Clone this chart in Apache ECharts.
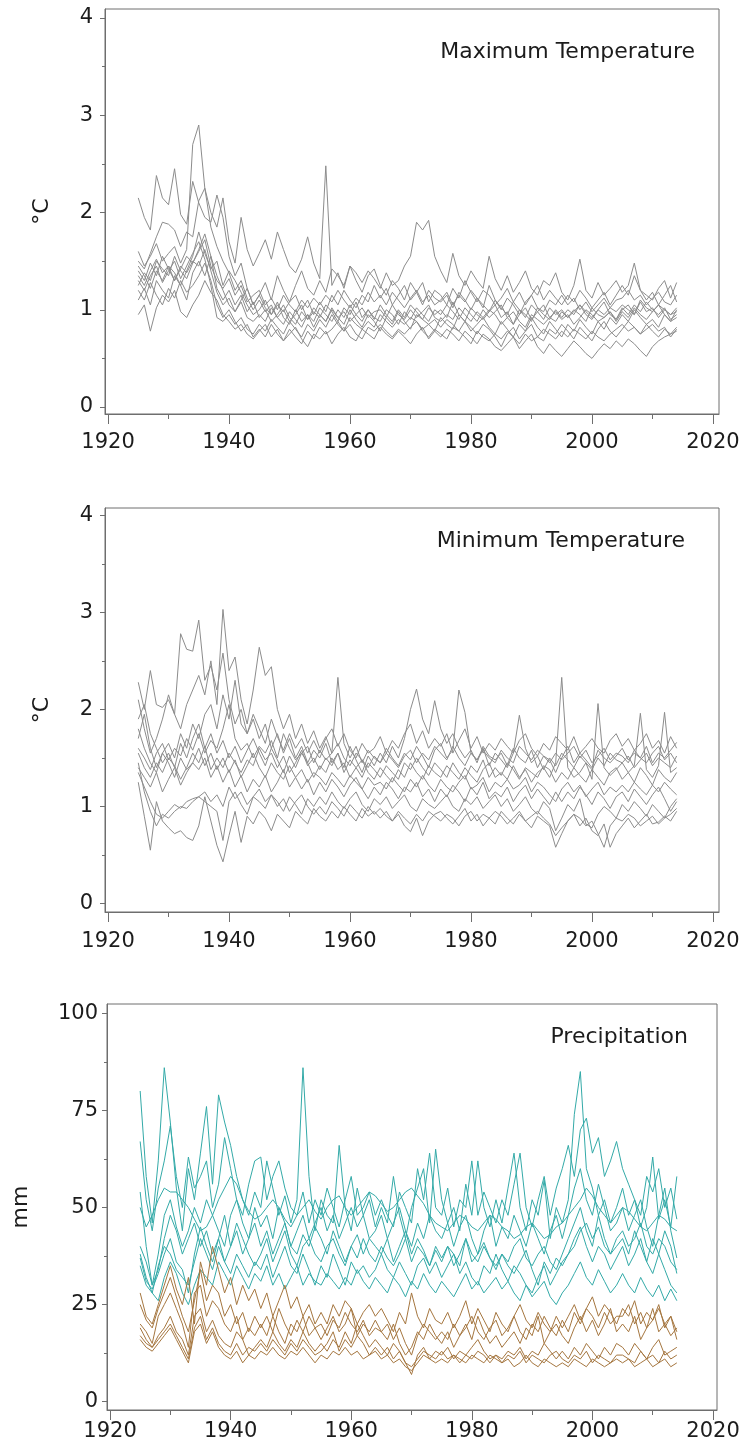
<!DOCTYPE html>
<html><head><meta charset="utf-8">
<script src="https://cdn.jsdelivr.net/npm/echarts@6/dist/echarts.min.js"></script>
<style>html,body{margin:0;padding:0;background:#fff}#c{width:746px;height:1452px}</style>
</head><body><div id="c"></div>
<script>
// ---------- categories / ticks ----------
const firstYear = 1925, lastYear = 2014;
const years = []; for (let y = firstYear; y <= lastYear; y++) years.push(y);
const xMajorTicks = [1920, 1940, 1960, 1980, 2000, 2020];
const xMinorTicks = [1930, 1950, 1970, 1990, 2010];
const tempTicks = [0, 1, 2, 3, 4];
const tempMinorTicks = [0.5, 1.5, 2.5, 3.5];
const precTicks = [0, 25, 50, 75, 100];
const precMinorTicks = [12.5, 37.5, 62.5, 87.5];
const panelTitles = ['Maximum Temperature', 'Minimum Temperature', 'Precipitation'];
const axisNames = ['°C', '°C', 'mm'];

// ---------- Maximum temperature (°C), 1925-2014, rows of 10 years ----------
const maxT1 = [2.15,1.95,1.82,2.38,2.15,2.08,2.45,1.98,1.88,2.32, 2.10,1.95,1.90,2.18,1.95,1.55,1.35,1.48,1.22,1.05, 1.15,1.02,0.95,1.08,0.92,0.85,1.00,0.88,0.95,0.82, 0.95,0.88,1.02,0.92,0.85,1.00,0.90,0.82,0.95,0.88, 0.78,0.92,0.85,0.98,0.88,0.80,0.95,0.90,0.85,0.78, 0.92,0.85,0.80,0.95,0.88,0.78,0.85,0.92,0.82,0.75, 0.88,0.80,0.72,0.85,0.78,0.92,0.82,0.75,0.88,0.80, 0.72,0.85,0.78,0.90,0.82,0.75,0.88,0.80,0.92,0.85, 0.95,0.88,1.00,0.92,0.85,0.90,0.82,0.95,0.88,0.92];
const maxT2 = [1.60,1.45,1.55,1.68,1.50,1.58,1.65,1.48,1.62,2.70, 2.90,2.25,1.85,1.65,1.50,1.38,1.20,1.30,1.12,1.00, 1.10,0.98,1.05,0.92,1.00,0.88,0.95,1.05,0.90,0.98, 0.92,1.05,0.98,0.88,1.02,0.95,1.08,0.92,1.00,0.90, 1.05,0.95,0.88,1.00,0.92,1.05,0.98,0.90,1.02,0.95, 1.00,0.92,1.08,0.95,0.88,1.02,0.95,0.90,0.98,1.05, 0.92,0.98,0.85,0.95,1.02,0.90,0.98,1.05,0.92,0.88, 0.98,0.92,1.00,0.95,0.88,1.02,0.95,0.92,0.98,0.90, 1.00,1.05,0.95,1.08,0.98,1.02,0.92,1.00,0.95,0.98];
const maxT3 = [1.50,1.42,1.58,1.75,1.90,1.88,1.82,1.65,1.80,1.75, 2.12,2.25,2.00,1.85,2.15,1.70,1.48,1.95,1.62,1.45, 1.58,1.72,1.52,1.80,1.62,1.45,1.38,1.52,1.75,1.48, 1.32,2.48,1.25,1.38,1.22,1.45,1.30,1.18,1.35,1.42, 1.25,1.15,1.30,1.22,1.10,1.28,1.18,1.05,1.20,1.12, 1.08,1.15,1.02,1.18,1.10,1.00,1.12,1.05,0.98,1.10, 1.02,0.95,1.08,1.00,0.92,1.05,0.98,0.90,1.02,0.95, 1.00,0.92,0.98,1.05,0.95,0.90,1.00,0.95,1.02,0.98, 1.05,1.00,0.95,1.10,1.02,0.98,1.05,1.00,0.95,1.02];
const maxT4 = [1.35,1.25,1.40,1.52,1.38,1.45,1.30,1.42,1.55,1.48, 1.62,1.78,1.55,1.35,1.20,1.05,0.98,1.10,1.22,1.05, 1.15,1.28,1.10,1.35,1.20,1.08,1.25,1.40,1.22,1.15, 1.30,1.18,1.42,1.35,1.25,1.45,1.38,1.28,1.40,1.32, 1.22,1.38,1.25,1.30,1.45,1.55,1.90,1.82,1.92,1.55, 1.40,1.28,1.58,1.35,1.25,1.40,1.30,1.22,1.55,1.32, 1.20,1.35,1.18,1.28,1.40,1.22,1.15,1.30,1.25,1.38, 1.18,1.10,1.25,1.52,1.20,1.12,1.28,1.15,1.22,1.30, 1.18,1.25,1.48,1.20,1.15,1.10,1.22,1.30,1.12,1.28];
const maxT5 = [1.30,1.20,1.35,1.45,1.28,1.40,1.50,1.32,1.45,1.58, 1.70,1.52,1.25,0.92,0.88,0.95,0.85,0.92,0.80,0.75, 0.85,0.78,0.90,0.82,0.75,0.88,0.80,0.72,0.85,0.78, 0.90,0.82,0.95,0.85,0.78,0.92,0.85,0.80,0.88,0.82, 0.95,0.88,0.82,0.90,0.85,0.92,0.88,0.80,0.85,0.90, 0.82,0.90,0.85,0.78,0.88,0.82,0.75,0.85,0.80,0.72, 0.62,0.75,0.82,0.70,0.78,0.85,0.72,0.68,0.80,0.75, 0.85,0.78,0.70,0.82,0.75,0.68,0.80,0.88,0.78,0.72, 0.80,0.88,0.82,0.75,0.85,0.78,0.72,0.80,0.75,0.82];
const maxT6 = [0.95,1.05,0.78,1.02,1.15,1.08,1.20,0.98,0.92,1.05, 1.15,1.30,1.18,1.10,0.95,0.88,0.80,0.85,0.75,0.70, 0.78,0.85,0.72,0.80,0.68,0.75,0.82,0.70,0.62,0.75, 0.70,0.78,0.65,0.75,0.82,0.72,0.68,0.80,0.75,0.70, 0.82,0.75,0.70,0.78,0.72,0.65,0.75,0.82,0.70,0.78, 0.72,0.80,0.75,0.68,0.78,0.72,0.65,0.75,0.70,0.62, 0.58,0.65,0.72,0.60,0.68,0.75,0.62,0.55,0.65,0.58, 0.52,0.60,0.68,0.62,0.55,0.50,0.58,0.65,0.60,0.68, 0.62,0.70,0.65,0.58,0.52,0.62,0.68,0.72,0.75,0.78];
const maxT7 = [1.40,1.30,1.48,1.35,1.55,1.42,1.30,1.45,1.38,1.50, 1.45,1.62,1.40,1.18,1.05,1.12,0.98,1.08,0.92,0.88, 0.95,0.88,1.02,0.92,0.85,0.98,0.90,0.82,0.95,0.88, 1.02,0.95,0.88,1.00,0.92,1.05,0.95,0.88,1.00,0.92, 0.88,1.00,0.95,0.85,0.98,0.90,1.02,0.95,0.88,1.00, 0.95,1.05,0.98,0.90,1.02,0.95,0.88,1.00,0.92,0.98, 1.05,0.92,0.85,1.00,0.95,0.88,1.02,0.95,0.90,1.00, 0.92,1.00,0.95,1.05,0.98,0.92,1.00,1.08,0.95,0.90, 1.02,0.95,1.05,0.98,1.08,1.00,0.95,1.02,0.90,0.95];
const maxT8 = [1.25,1.38,1.30,1.50,1.42,1.35,1.55,1.40,1.32,1.48, 1.60,1.72,1.45,1.30,1.22,1.32,1.15,1.25,1.08,1.15, 1.20,1.05,1.12,1.00,1.15,1.05,0.98,1.10,1.02,1.12, 1.05,1.15,1.08,1.20,1.10,1.02,1.12,1.05,1.18,1.08, 1.15,1.05,1.18,1.10,1.02,1.12,1.20,1.08,1.15,1.05, 1.10,1.18,1.05,1.15,1.08,1.20,1.12,1.02,1.25,1.10, 1.00,1.12,1.05,0.95,1.08,1.15,1.02,0.98,1.10,1.05, 1.15,1.05,1.12,1.00,1.08,0.98,1.05,1.12,1.02,1.10, 1.12,1.20,1.10,1.15,1.05,1.12,1.18,1.08,1.05,1.15];
const maxT9 = [1.20,1.10,1.28,1.15,1.05,1.22,1.12,1.30,1.18,1.25, 1.35,1.48,1.30,1.05,0.92,1.00,0.88,0.78,0.85,0.72, 0.80,0.72,0.85,0.75,0.68,0.80,0.72,0.65,0.78,0.70, 0.82,0.75,0.80,0.88,0.78,0.85,0.75,0.70,0.82,0.78, 0.85,0.78,0.72,0.80,0.75,0.82,0.88,0.78,0.72,0.80, 0.75,0.70,0.82,0.78,0.72,0.65,0.78,0.72,0.68,0.75, 0.70,0.78,0.72,0.65,0.75,0.68,0.72,0.80,0.75,0.70, 0.78,0.72,0.80,0.75,0.70,0.78,0.72,0.68,0.75,0.80, 0.85,0.78,0.82,0.75,0.80,0.85,0.78,0.82,0.72,0.80];
const maxT10 = [1.45,1.35,1.22,1.40,1.30,1.45,1.38,1.25,1.40,1.55, 1.80,1.58,1.42,1.50,1.25,1.40,1.30,1.18,1.05,0.95, 1.00,1.10,0.95,1.05,0.98,1.08,1.15,1.00,1.10,0.95, 1.08,0.98,1.15,1.05,1.20,1.10,1.02,1.15,1.08,1.25, 1.12,1.22,1.05,1.15,1.25,1.10,1.18,1.28,1.08,1.20, 1.15,1.05,1.22,1.12,1.30,1.18,1.08,1.20,1.15,1.05, 1.12,1.22,1.08,1.18,1.05,1.15,1.25,1.10,1.20,1.12, 1.05,1.15,1.08,1.20,1.12,1.02,1.10,1.18,1.05,1.15, 1.25,1.15,1.35,1.20,1.10,1.18,1.05,1.15,1.25,1.08];
const maxT11 = [1.10,1.22,1.05,1.30,1.20,1.12,1.35,1.25,1.10,1.38, 1.50,1.35,1.55,1.22,1.10,1.20,1.05,1.15,0.98,1.08, 0.92,1.00,0.88,0.95,1.05,0.92,0.85,0.98,0.90,1.02, 0.95,0.88,1.00,0.92,0.98,0.88,0.95,1.02,0.92,0.98, 1.00,0.92,1.05,0.95,0.90,1.00,0.92,0.98,1.05,0.92, 0.88,0.95,0.90,1.02,0.95,0.88,0.98,0.92,1.00,0.95, 0.85,0.92,0.98,0.88,0.82,0.95,0.90,0.85,0.92,0.98, 0.90,0.95,0.85,0.92,1.00,0.95,0.88,0.92,0.98,0.88, 0.98,0.92,1.02,0.95,0.90,0.98,1.05,0.95,0.88,1.00];

// ---------- Minimum temperature (°C) ----------
const minT1 = [2.28,2.00,2.40,2.05,2.02,2.10,1.95,2.78,2.62,2.60, 2.92,2.30,2.45,2.20,2.58,2.10,1.85,2.00,1.75,1.90, 1.70,1.85,1.60,1.75,1.55,1.70,1.50,1.62,1.45,1.58, 1.50,1.65,1.45,1.55,1.40,1.62,1.48,1.35,1.52,1.42, 1.55,1.45,1.62,1.50,1.70,2.00,2.21,1.90,1.75,2.09, 1.80,1.65,1.75,1.60,1.50,1.58,1.45,1.62,1.52,1.48, 1.55,1.42,1.60,1.50,1.45,1.58,1.40,1.52,1.48,1.35, 1.50,1.62,1.45,1.55,1.48,1.40,1.58,1.50,1.45,1.52, 1.60,1.48,1.55,1.50,1.62,1.45,1.55,1.50,1.58,1.66];
const minT2 = [2.10,1.80,1.55,1.70,1.90,2.15,1.95,1.80,2.05,2.20, 2.35,2.15,2.50,2.05,3.03,2.40,2.54,2.10,1.85,2.20, 2.64,2.35,2.44,2.00,1.80,1.95,1.70,1.85,1.65,1.78, 1.60,1.72,1.55,2.33,1.65,1.50,1.62,1.45,1.58,1.50, 1.45,1.60,1.50,1.42,1.55,1.48,1.62,1.52,1.40,1.58, 1.65,1.50,1.58,2.20,1.97,1.55,1.48,1.60,1.42,1.55, 1.48,1.40,1.55,1.94,1.60,1.45,1.52,1.38,1.50,1.42, 1.55,1.48,1.40,1.52,1.45,1.38,1.50,1.42,1.55,1.48, 1.45,1.52,1.40,1.48,1.55,1.42,1.50,1.45,1.40,1.52];
const minT3 = [1.90,2.05,1.75,1.60,1.45,1.55,1.40,1.65,1.50,1.70, 1.85,1.60,1.75,1.55,1.68,1.50,1.62,1.45,1.58,1.70, 1.55,1.42,1.60,1.48,1.35,1.52,1.40,1.55,1.45,1.30, 1.42,1.35,1.50,1.38,1.45,1.30,1.40,1.48,1.35,1.28, 1.40,1.32,1.25,1.38,1.30,1.45,1.35,1.28,1.42,1.35, 1.30,1.42,1.35,1.28,1.40,1.32,1.25,1.38,1.45,1.30, 1.35,1.28,1.42,1.30,1.38,1.25,1.35,1.40,1.30,1.45, 2.33,1.40,1.30,1.35,1.45,1.28,2.06,1.40,1.32,1.38, 1.45,1.35,1.42,1.96,1.38,1.30,1.42,1.97,1.35,1.40];
const minT4 = [1.25,0.90,0.55,1.05,0.85,0.78,0.72,0.75,0.68,0.65, 0.80,1.10,0.85,0.60,0.43,0.70,0.95,0.63,0.90,0.82, 0.95,0.88,0.75,0.92,0.85,0.78,0.95,0.88,0.82,0.98, 0.90,0.85,0.95,0.88,1.00,0.92,0.85,0.98,0.90,0.95, 0.88,0.95,0.85,0.92,0.80,0.74,0.88,0.70,0.85,0.92, 0.95,0.88,0.82,0.90,0.98,0.85,0.92,0.80,0.88,0.95, 0.90,0.82,0.88,0.95,0.85,0.78,0.90,0.85,0.80,0.58, 0.72,0.85,0.92,0.80,0.88,0.75,0.70,0.82,0.58,0.72, 0.80,0.88,0.78,0.85,0.92,0.82,0.84,0.90,0.85,0.95];
const minT5 = [1.45,1.15,0.95,0.80,0.92,0.88,0.95,1.00,0.98,1.05, 1.10,1.05,1.00,0.95,0.65,1.05,1.15,1.02,0.92,1.10, 1.05,0.98,1.12,1.05,0.95,1.10,1.02,0.92,1.08,1.00, 1.10,1.02,1.15,1.05,0.98,1.08,1.15,1.02,0.95,1.08, 1.02,1.10,0.98,1.05,1.12,1.00,0.95,1.08,1.02,0.98, 1.05,1.12,1.00,0.95,1.08,1.02,1.10,0.98,1.05,1.12, 1.00,1.08,0.95,1.02,1.10,0.98,0.92,1.05,0.98,0.75, 0.88,1.02,0.95,1.08,0.82,0.78,0.92,1.00,0.95,0.88, 1.02,0.95,1.05,0.98,0.90,1.02,0.95,0.88,1.00,1.08];
const minT6 = [1.55,1.40,1.30,1.45,1.35,1.50,1.42,1.28,1.40,1.55, 1.45,1.62,1.38,1.50,1.40,1.55,1.45,1.35,1.48,1.42, 1.60,1.48,1.55,1.40,1.52,1.35,1.45,1.58,1.42,1.50, 1.38,1.50,1.42,1.55,1.35,1.48,1.40,1.30,1.45,1.38, 1.30,1.42,1.35,1.28,1.45,1.38,1.50,1.40,1.32,1.45, 1.38,1.30,1.45,1.35,1.28,1.42,1.35,1.48,1.30,1.40, 1.32,1.45,1.38,1.28,1.40,1.35,1.30,1.42,1.38,1.25, 1.35,1.28,1.40,1.32,1.25,1.38,1.30,1.22,1.35,1.40, 1.28,1.35,1.25,1.40,1.32,1.22,1.38,1.30,1.25,1.35];
const minT7 = [1.80,1.60,1.45,1.35,1.55,1.65,1.50,1.75,1.60,1.85, 1.70,1.95,2.05,1.80,2.15,1.90,2.30,1.85,1.75,1.95, 1.80,1.65,1.90,1.72,1.58,1.75,1.60,1.70,1.55,1.68, 1.55,1.70,1.80,1.62,1.75,1.58,1.50,1.65,1.55,1.60, 1.72,1.55,1.68,1.60,1.75,1.85,1.65,1.78,1.60,1.70, 1.62,1.75,1.55,1.68,1.80,1.60,1.72,1.55,1.65,1.58, 1.70,1.62,1.55,1.68,1.75,1.60,1.52,1.65,1.58,1.72, 1.65,1.58,1.72,1.55,1.62,1.70,1.60,1.55,1.68,1.75, 1.62,1.70,1.58,1.65,1.75,1.60,1.68,1.55,1.72,1.60];
const minT8 = [1.40,1.30,1.20,1.35,1.15,1.28,1.40,1.22,1.35,1.45, 1.38,1.50,1.30,1.42,1.25,1.38,1.20,1.32,1.15,1.28, 1.20,1.32,1.15,1.25,1.38,1.20,1.30,1.18,1.28,1.12, 1.25,1.15,1.28,1.20,1.10,1.22,1.30,1.18,1.08,1.20, 1.12,1.25,1.18,1.08,1.20,1.15,1.25,1.10,1.18,1.05, 1.18,1.10,1.22,1.15,1.05,1.20,1.12,1.25,1.08,1.15, 1.10,1.20,1.05,1.15,1.22,1.08,1.18,1.10,1.02,1.15, 1.05,1.15,1.08,1.20,1.12,1.02,1.15,1.08,0.98,1.10, 1.15,1.05,1.18,1.10,1.02,1.12,1.20,1.08,0.95,1.05];
const minT9 = [1.60,1.50,1.38,1.55,1.65,1.48,1.60,1.52,1.70,1.58, 1.75,1.55,1.68,1.60,1.80,2.05,1.70,1.58,1.65,1.50, 1.62,1.55,1.68,1.50,1.75,1.60,1.48,1.55,1.62,1.45, 1.58,1.48,1.55,1.65,1.50,1.42,1.55,1.48,1.40,1.52, 1.45,1.55,1.48,1.40,1.52,1.58,1.45,1.55,1.48,1.62, 1.55,1.48,1.62,1.50,1.42,1.55,1.48,1.58,1.50,1.45, 1.58,1.50,1.45,1.62,1.55,1.48,1.58,1.52,1.45,1.55, 1.48,1.55,1.62,1.50,1.58,1.45,1.52,1.60,1.48,1.55, 1.52,1.45,1.58,1.50,1.45,1.55,1.62,1.48,1.55,1.45];
const minT10 = [1.35,1.20,1.05,0.92,0.88,0.95,1.02,0.98,1.05,1.08, 1.10,1.15,1.05,1.12,1.00,1.20,1.08,1.15,1.02,1.10, 1.18,1.05,1.12,1.00,1.08,0.95,1.05,1.12,1.00,0.92, 1.00,0.92,1.05,0.98,0.90,1.02,0.95,0.88,1.00,0.92, 0.98,0.90,0.85,0.95,0.88,0.82,0.92,0.85,0.95,0.90, 0.85,0.92,0.88,0.80,0.90,0.95,0.85,0.92,0.88,0.82, 0.95,0.88,0.82,0.92,0.85,0.90,0.95,0.88,0.82,0.70, 0.78,0.85,0.92,0.88,0.80,0.85,0.72,0.58,0.80,0.88, 0.85,0.92,0.88,0.80,0.85,0.90,0.82,0.88,0.92,0.98];
const minT11 = [1.70,1.95,1.60,1.40,1.55,1.45,1.30,1.50,1.38,1.45, 1.60,1.42,1.55,1.38,1.50,1.35,1.48,1.30,1.42,1.55, 1.40,1.30,1.45,1.35,1.28,1.42,1.30,1.38,1.25,1.35, 1.30,1.22,1.35,1.28,1.20,1.32,1.25,1.18,1.30,1.22, 1.25,1.18,1.30,1.22,1.15,1.28,1.20,1.32,1.22,1.15, 1.28,1.20,1.15,1.25,1.32,1.18,1.22,1.30,1.15,1.25, 1.20,1.28,1.18,1.22,1.30,1.15,1.25,1.20,1.12,1.05, 1.18,1.25,1.15,1.22,1.10,1.18,1.25,1.12,1.20,1.15, 1.22,1.15,1.25,1.18,1.12,1.22,1.15,1.25,1.18,1.12];

// ---------- Precipitation (mm): teal group ----------
const precTeal1 = [80,58,46,62,86,72,55,44,60,52, 64,76,56,79,72,66,58,52,48,54, 50,62,55,48,53,46,52,86,58,44, 52,48,46,66,50,44,55,48,52,45, 50,46,58,48,42,50,55,60,46,65, 52,46,50,44,56,48,62,50,45,52, 46,55,64,50,44,52,48,57,42,50, 46,52,74,85,60,55,48,52,46,50, 55,48,52,45,50,63,47,52,45,58];
const precTeal2 = [67,52,44,55,62,71,58,50,63,55, 58,62,50,56,68,60,52,48,56,62, 63,52,58,62,55,50,48,54,46,52, 48,55,50,45,52,58,48,50,54,48, 52,48,45,54,50,46,60,52,64,50, 48,55,45,52,50,62,48,54,50,46, 52,48,56,64,50,45,52,58,48,55, 60,66,58,70,73,64,68,58,62,67, 60,56,52,48,58,54,60,50,55,47];
const precTeal3 = [54,40,30,38,48,52,45,40,44,50, 46,52,48,44,40,48,52,46,42,50, 45,48,42,50,46,40,44,48,42,46, 50,44,48,42,46,50,45,48,42,44, 48,42,46,50,44,40,46,42,48,44, 42,46,40,45,48,42,38,44,48,40, 45,42,48,44,40,46,42,38,44,48, 42,48,55,60,52,48,56,50,44,46, 50,44,48,52,45,40,48,55,44,37];
const precTeal4 = [50,45,48,52,55,54,54,52,50,47, 44,45,48,52,55,58,56,52,49,47, 48,50,52,50,47,45,48,50,52,49, 47,50,52,53,50,48,50,52,54,53, 51,49,50,52,54,55,53,51,48,46, 45,44,46,48,47,45,44,46,48,47, 45,44,42,43,45,46,44,42,43,45, 46,48,50,52,55,53,50,48,46,48, 50,49,47,45,44,46,48,47,45,44];
const precTeal5 = [40,36,30,34,42,48,44,38,42,46, 40,44,38,42,36,40,46,42,38,35, 38,42,36,40,44,38,35,40,42,38, 36,40,42,38,35,40,37,42,38,36, 40,37,35,38,42,36,40,38,35,39, 36,40,38,35,42,38,36,40,37,35, 38,36,40,42,37,35,38,40,36,34, 38,42,46,50,44,40,48,42,38,40, 42,38,44,40,36,42,38,44,40,33];
const precTeal6 = [38,32,28,35,40,38,34,32,30,36, 42,38,34,40,36,33,38,35,32,36, 34,38,32,36,40,35,33,38,34,30, 35,32,38,34,30,36,33,35,32,34, 38,34,32,36,33,30,35,37,33,36, 32,35,38,33,36,32,30,35,33,38, 34,31,35,33,30,28,32,35,30,33, 36,38,42,45,40,36,40,38,34,37, 40,35,38,42,36,33,38,34,30,28];
const precTeal7 = [37,31,29,33,38,42,36,34,28,38, 45,40,36,42,48,40,44,38,42,46, 40,44,38,42,46,40,38,43,40,45, 42,38,44,40,36,40,43,38,42,40, 38,42,36,40,44,38,42,39,35,40, 37,40,35,38,42,36,38,41,37,34, 38,35,33,36,39,34,30,36,33,37, 35,38,40,44,46,42,45,40,38,42, 44,40,42,46,40,38,42,40,36,34];
const precTeal8 = [35,30,28,26,32,36,33,28,25,30, 34,32,30,36,33,30,35,32,29,33, 31,35,30,33,29,32,35,30,33,31, 30,33,31,29,32,30,34,31,29,32, 30,28,32,30,27,31,29,33,30,28, 31,29,27,30,33,29,31,28,30,32, 29,31,28,26,30,27,29,31,27,25, 28,30,33,36,32,30,34,31,28,30, 33,30,28,32,29,27,30,26,29,26];

// ---------- Precipitation (mm): brown group ----------
const precBrown1 = [28,22,20,25,30,35,29,25,32,20, 36,30,40,34,28,32,25,30,26,29, 24,28,22,26,30,24,27,22,25,20, 23,20,25,22,26,24,20,23,25,22, 24,21,18,23,20,28,22,19,24,21, 20,23,19,22,26,20,24,21,18,23, 20,18,22,25,21,19,23,20,18,22, 19,22,25,21,24,27,22,25,23,20, 24,22,26,20,23,21,25,19,22,16];
const precBrown2 = [20,18,15,22,25,28,24,20,14,28, 30,22,26,24,20,18,22,16,19,17, 20,17,22,18,15,20,18,22,17,19, 16,19,22,18,20,24,17,20,18,21, 18,16,20,15,12,14,18,16,20,17, 15,18,14,17,20,16,22,18,15,17, 14,16,18,15,19,17,22,15,18,20, 17,15,19,22,18,21,17,20,24,18, 20,18,22,16,19,24,18,20,17,19];
const precBrown3 = [19,16,14,17,19,22,18,16,12,22, 24,18,21,17,15,14,18,16,12,14, 16,14,18,15,13,16,14,18,15,13, 15,13,16,14,18,15,20,17,14,16, 14,12,15,13,10,7,12,14,11,13, 12,14,11,13,12,14,16,13,11,12, 11,13,12,14,11,13,12,15,13,11, 13,11,14,12,15,13,11,14,12,15, 14,12,15,13,11,14,16,12,13,14];
const precBrown4 = [17,15,14,16,18,20,17,14,11,19, 22,16,19,15,13,12,15,12,14,13, 15,13,16,14,12,15,13,16,14,12, 13,15,18,13,16,14,17,15,12,14, 12,14,11,13,10,9,11,13,12,11, 13,11,12,10,12,11,13,12,10,12, 10,12,11,13,10,12,11,10,12,13, 11,10,12,11,13,10,12,11,10,12, 12,11,10,13,11,12,10,13,11,12];
const precBrown5 = [16,14,13,15,17,19,16,13,10,18, 20,15,18,14,12,11,13,10,12,11, 13,12,14,12,11,13,12,14,12,10, 12,11,13,12,14,12,13,11,12,13, 11,12,10,11,9,8,10,12,11,10, 11,10,12,11,10,12,11,10,12,11, 10,11,9,10,12,10,9,11,10,9, 10,9,11,10,9,11,10,9,10,11, 10,11,9,10,11,9,10,11,9,10];
const precBrown6 = [25,21,19,24,28,32,27,22,18,26, 34,26,30,28,22,25,20,23,18,22, 19,22,18,24,20,17,21,18,22,19, 20,17,21,19,23,20,18,21,17,19, 18,20,16,19,15,12,17,20,18,16, 18,16,20,17,19,22,18,16,19,21, 17,19,22,18,16,20,18,22,19,17, 21,18,23,20,24,22,19,23,20,22, 22,25,20,23,19,21,24,20,22,18];

const maxTSeries = [maxT1, maxT2, maxT3, maxT4, maxT5, maxT6, maxT7, maxT8, maxT9, maxT10, maxT11];
const minTSeries = [minT1, minT2, minT3, minT4, minT5, minT6, minT7, minT8, minT9, minT10, minT11];
const tealSeries = [precTeal1, precTeal2, precTeal3, precTeal4, precTeal5, precTeal6, precTeal7, precTeal8];
const brownSeries = [precBrown1, precBrown2, precBrown3, precBrown4, precBrown5, precBrown6];

// ---------- layout ----------
const FONT = 'DejaVu Sans';
const AXIS_COLOR = '#6e6e6e';
const TEXT_COLOR = '#1c1c1c';
const plainNumber = v => String(v);
const panels = [
  { grid: { left: 105, top: 9, width: 614, height: 405 }, xMin: 1919.5, xMax: 2021, yMin: -0.072, yMax: 4.093, ticks: tempTicks, minor: tempMinorTicks, nameGap: 52, labelMargin: 18, yLabelMargin: 12, title: { x: 695, y: 52 } },
  { grid: { left: 105, top: 508, width: 614, height: 404 }, xMin: 1919.5, xMax: 2021, yMin: -0.087, yMax: 4.075, ticks: tempTicks, minor: tempMinorTicks, nameGap: 52, labelMargin: 19, yLabelMargin: 12, title: { x: 685, y: 541 } },
  { grid: { left: 107, top: 1004, width: 610, height: 406 }, xMin: 1919.5, xMax: 2020.66, yMin: -2.14, yMax: 102.4, ticks: precTicks, minor: precMinorTicks, nameGap: 75, labelMargin: 11, yLabelMargin: 9, title: { x: 688, y: 1037 } }
];

const grids = [], xAxes = [], yAxes = [], series = [], graphics = [];
panels.forEach((p, i) => {
  grids.push(Object.assign({ show: true, borderColor: AXIS_COLOR, borderWidth: 1, backgroundColor: '#fff' }, p.grid));
  xAxes.push({ type: 'value', gridIndex: i, min: p.xMin, max: p.xMax, position: 'bottom',
    axisLine: { show: true, onZero: false, lineStyle: { color: AXIS_COLOR, width: 1 } },
    axisTick: { show: true, customValues: xMajorTicks, length: 10, inside: false, lineStyle: { color: AXIS_COLOR } },
    axisLabel: { show: true, customValues: xMajorTicks, formatter: plainNumber, margin: p.labelMargin, fontSize: 21, fontFamily: FONT, color: TEXT_COLOR },
    splitLine: { show: false } });
  xAxes.push({ type: 'value', gridIndex: i, min: p.xMin, max: p.xMax, position: 'bottom',
    axisLine: { show: false, onZero: false },
    axisTick: { show: true, customValues: xMinorTicks, length: 5, lineStyle: { color: AXIS_COLOR } },
    axisLabel: { show: false }, splitLine: { show: false } });
  yAxes.push({ type: 'value', gridIndex: i, min: p.yMin, max: p.yMax, position: 'left',
    name: axisNames[i], nameLocation: 'middle', nameGap: p.nameGap, nameRotate: 90,
    nameTextStyle: { fontSize: 22, fontFamily: FONT, color: TEXT_COLOR },
    axisLine: { show: true, onZero: false, lineStyle: { color: AXIS_COLOR, width: 1 } },
    axisTick: { show: true, customValues: p.ticks, length: 5, lineStyle: { color: AXIS_COLOR } },
    axisLabel: { show: true, customValues: p.ticks, formatter: plainNumber, margin: p.yLabelMargin, fontSize: 21, fontFamily: FONT, color: TEXT_COLOR },
    splitLine: { show: false } });
  yAxes.push({ type: 'value', gridIndex: i, min: p.yMin, max: p.yMax, position: 'left',
    axisLine: { show: false, onZero: false },
    axisTick: { show: true, customValues: p.minor, length: 3, lineStyle: { color: AXIS_COLOR } },
    axisLabel: { show: false }, splitLine: { show: false } });
  graphics.push({ type: 'text', x: p.title.x, y: p.title.y, silent: true,
    style: { text: panelTitles[i], fontSize: 22, fontFamily: FONT, fill: TEXT_COLOR,
      textAlign: 'right', textVerticalAlign: 'middle', align: 'right', verticalAlign: 'middle' } });
});

function addLines(list, gridIdx, color) {
  list.forEach((vals) => {
    series.push({ type: 'line', xAxisIndex: gridIdx * 2, yAxisIndex: gridIdx * 2,
      data: years.map((y, j) => [y, vals[j]]), showSymbol: false, symbol: 'none', silent: true,
      lineStyle: { color: color, width: 1 }, emphasis: { disabled: true } });
  });
}
addLines(maxTSeries, 0, '#8c8c8c');
addLines(minTSeries, 1, '#8c8c8c');
addLines(tealSeries, 2, '#33aaa8');
addLines(brownSeries, 2, '#a5763f');

const chart = echarts.init(document.getElementById('c'), null, { renderer: 'canvas' });
chart.setOption({ animation: false, backgroundColor: '#fff', grid: grids, xAxis: xAxes, yAxis: yAxes, series: series, graphic: graphics });
</script></body></html>
